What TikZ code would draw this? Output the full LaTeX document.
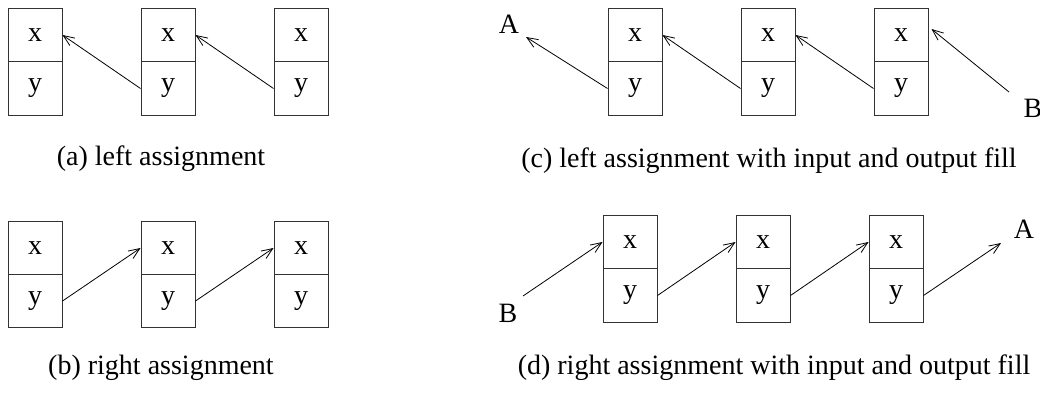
\documentclass[tikz,border=0pt]{standalone}
\usepackage{fontspec}
\setmainfont{Liberation Serif}
\usetikzlibrary{arrows.meta}
\tikzset{
  cell/.style={draw=black!80, line width=1pt, minimum width=54pt, minimum height=53.5pt, inner sep=0pt, font=\fontsize{28}{30}\selectfont, anchor=center},
  link/.style={line width=0.8pt, -{Straight Barb[length=11pt,width=9pt,line width=0.8pt]}},
  lbl/.style={font=\fontsize{28}{30}\selectfont, inner sep=0pt},
  captext/.style={font=\fontsize{28}{30}\selectfont, inner sep=0pt}
}
\begin{document}
\begin{tikzpicture}[x=1pt,y=-1pt]
\useasboundingbox (0,0) rectangle (1040,394);
% (a)
\foreach \n/\x in {1/35,2/168,3/301}{
  \node[cell] (a\n x) at (\x,35) {x};
  \node[cell] (a\n y) at (\x,88.5) {y};
}
\draw[link] (a2y.west) -- (a1x.east);
\draw[link] (a3y.west) -- (a2x.east);
\node[captext] (capa) at (161,159) {(a) left assignment};
% (b)
\foreach \n/\x in {1/35,2/168,3/301}{
  \node[cell] (b\n x) at (\x,248) {x};
  \node[cell] (b\n y) at (\x,301) {y};
}
\draw[link] (b1y.east) -- (b2x.west);
\draw[link] (b2y.east) -- (b3x.west);
\node[captext] (capb) at (161,368) {(b) right assignment};
% (c)
\foreach \n/\x in {1/635,2/768,3/901}{
  \node[cell] (c\n x) at (\x,35) {x};
  \node[cell] (c\n y) at (\x,88.5) {y};
}
\node[lbl] (cA) at (509,24) {A};
\node[lbl] (cB) at (1033,108) {B};
\coordinate (cAt) at (526,37);
\coordinate (cBs) at (1009,92);
\draw[link] (c1y.west) -- (cAt);
\draw[link] (c2y.west) -- (c1x.east);
\draw[link] (c3y.west) -- (c2x.east);
\draw[link] (cBs) -- ([xshift=3pt,yshift=6pt]c3x.east);
\node[captext] (capc) at (769,161) {(c) left assignment with input and output fill};
% (d)
\foreach \n/\x in {1/630,2/763,3/896}{
  \node[cell] (d\n x) at (\x,242) {x};
  \node[cell] (d\n y) at (\x,295.5) {y};
}
\node[lbl] (dA) at (1024,229) {A};
\node[lbl] (dB) at (508,313) {B};
\coordinate (dBs) at (523,296);
\coordinate (dAt) at (1001,243);
\draw[link] (dBs) -- (d1x.west);
\draw[link] (d1y.east) -- (d2x.west);
\draw[link] (d2y.east) -- (d3x.west);
\draw[link] (d3y.east) -- (dAt);
\node[captext] (capd) at (774,368) {(d) right assignment with input and output fill};
\end{tikzpicture}
\end{document}
